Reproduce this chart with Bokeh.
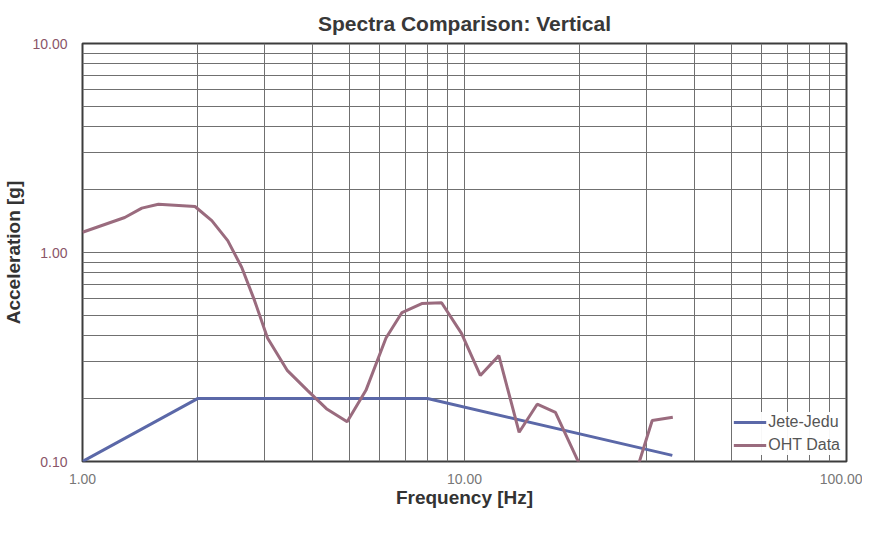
from bokeh.plotting import figure
from bokeh.models import (FixedTicker, NumeralTickFormatter, Legend, LegendItem, Range1d)
from bokeh.embed import file_html
from bokeh.resources import INLINE

# ---- data ----
jete_freq = [1.0, 2.0, 8.0, 35.0]
jete_acc = [0.10, 0.20, 0.20, 0.107]

oht_freq = [1.0, 1.29, 1.43, 1.58, 1.97, 2.18, 2.40, 2.61, 2.82, 3.05, 3.44, 3.88,
            4.35, 4.93, 5.52, 6.23, 6.86, 7.73, 8.71, 9.82, 11.0, 12.3, 13.9, 15.5,
            17.3, 21.0, 27.0, 31.0, 35.1]
oht_acc = [1.25, 1.47, 1.63, 1.70, 1.66, 1.42, 1.14, 0.85, 0.59, 0.39, 0.272, 0.219,
           0.179, 0.155, 0.219, 0.39, 0.516, 0.570, 0.575, 0.41, 0.258, 0.321, 0.138, 0.188,
           0.172, 0.08, 0.07, 0.157, 0.163]

x_major = [1, 10, 100]
x_minor = [2, 3, 4, 5, 6, 7, 8, 9, 20, 30, 40, 50, 60, 70, 80, 90]
y_major = [0.1, 1, 10]
y_minor = [0.2, 0.3, 0.4, 0.5, 0.6, 0.7, 0.8, 0.9, 2, 3, 4, 5, 6, 7, 8, 9]

title_text = "Spectra Comparison: Vertical"
x_label = "Frequency [Hz]"
y_label = "Acceleration [g]"
series_names = ["Jete-Jedu", "OHT Data"]

FONT = "Liberation Sans"
BLUE = "#5b68a8"
MAUVE = "#9a6b7e"
GRID = "#707070"

p = figure(frame_width=764, frame_height=418, x_axis_type="log", y_axis_type="log",
           x_range=Range1d(1, 100), y_range=Range1d(0.1, 10),
           output_backend="svg", toolbar_location=None,
           min_border_left=82, min_border_top=43, min_border_right=16, min_border_bottom=0)

p.title.text = title_text
p.title.align = "center"
p.title.text_font = FONT
p.title.text_font_size = "21px"
p.title.text_font_style = "bold"
p.title.text_color = "#383838"
p.title.standoff = 17

p.outline_line_color = "#3c3c3c"
p.outline_line_width = 2

for ax in (p.xaxis[0], p.yaxis[0]):
    ax.axis_line_color = None
    ax.major_tick_line_color = None
    ax.minor_tick_line_color = None
    ax.major_tick_out = 0
    ax.major_tick_in = 0
    ax.minor_tick_out = 0
    ax.minor_tick_in = 0
    ax.major_label_text_font = FONT
    ax.major_label_text_font_size = "14px"
    ax.formatter = NumeralTickFormatter(format="0.00")
    ax.axis_label_text_font = FONT
    ax.axis_label_text_font_size = "19px"
    ax.axis_label_text_font_style = "bold"
    ax.axis_label_text_color = "#333333"

p.xaxis[0].ticker = FixedTicker(ticks=x_major, minor_ticks=x_minor)
p.yaxis[0].ticker = FixedTicker(ticks=y_major, minor_ticks=y_minor)
p.xaxis[0].major_label_text_color = "#777777"
p.yaxis[0].major_label_text_color = "#8a5568"
p.xaxis[0].major_label_standoff = 12
p.yaxis[0].major_label_standoff = 15

p.xaxis[0].axis_label = x_label
p.xaxis[0].axis_label_standoff = 0
p.yaxis[0].axis_label = y_label
p.yaxis[0].axis_label_standoff = 5

for g in (p.xgrid[0], p.ygrid[0]):
    g.grid_line_color = GRID
    g.grid_line_width = 1
    g.minor_grid_line_color = GRID
    g.minor_grid_line_width = 1

r1 = p.line(jete_freq, jete_acc, line_color=BLUE, line_width=3)
r2 = p.line(oht_freq, oht_acc, line_color=MAUVE, line_width=3)

legend = Legend(items=[LegendItem(label=series_names[0], renderers=[r1]),
                       LegendItem(label=series_names[1], renderers=[r2])],
                orientation="vertical", location="bottom_right",
                glyph_width=33, label_standoff=2,
                padding=4, margin=6, border_line_color=None,
                background_fill_color="white", background_fill_alpha=0.95,
                label_text_font=FONT, label_text_font_size="16px",
                label_text_color="#555555")
p.add_layout(legend)

open("out.html", "w").write(file_html(p, INLINE))
